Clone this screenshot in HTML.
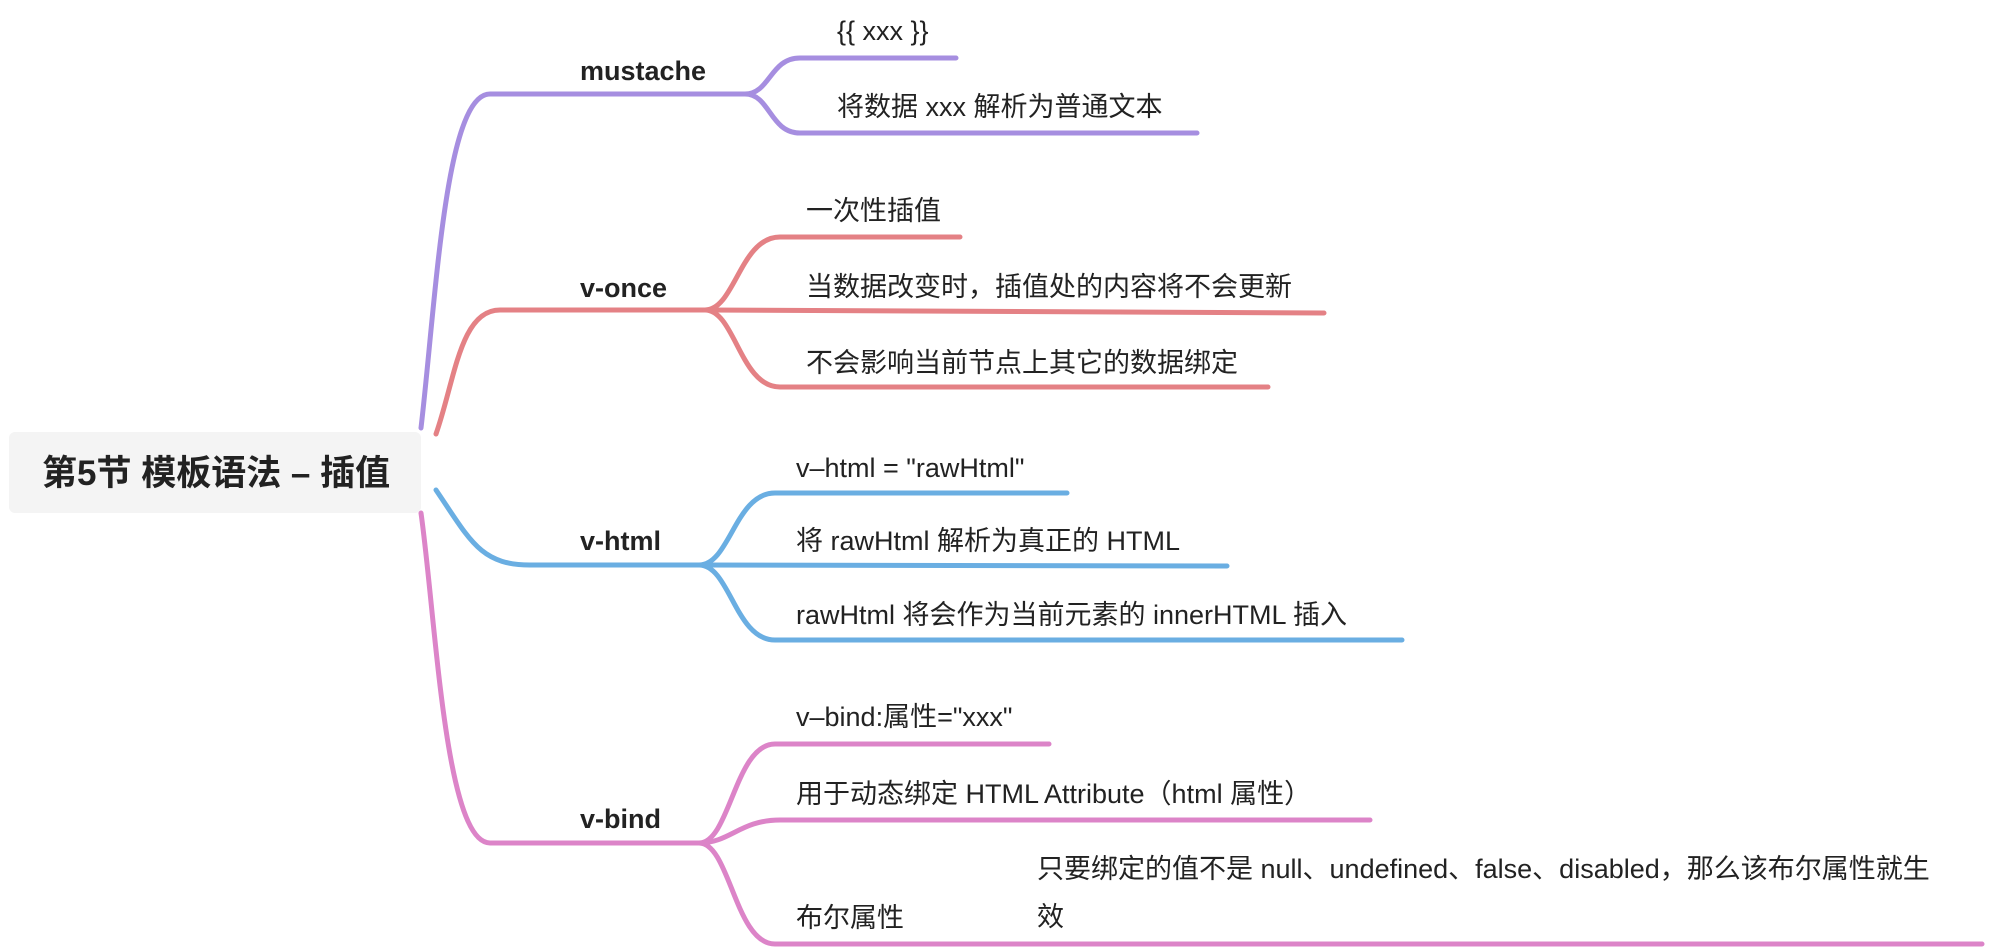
<!DOCTYPE html>
<html><head><meta charset="utf-8"><style>
html,body{margin:0;padding:0;background:#fff;}
svg{display:block;}
text{font-family:"Liberation Sans","Noto Sans CJK SC",sans-serif;fill:#222;font-size:27px;}
.b{font-weight:bold;}
path{fill:none;stroke-width:5;stroke-linecap:round;}
</style></head><body>
<svg width="2012" height="948" viewBox="0 0 2012 948" xmlns="http://www.w3.org/2000/svg">
<rect x="9" y="432" width="412" height="81" rx="6" fill="#f4f4f4"/>
<text x="42" y="485" class="b" style="font-size:35px">第5节 模板语法 – 插值</text>

<!-- purple -->
<g stroke="#a68ee0">
<path d="M421,428 C436,300 445,94 490,94 L745,94"/>
<path d="M745,94 C770,94 770,58 800,58 L956,58"/>
<path d="M745,94 C770,94 770,133 800,133 L1197,133"/>
</g>
<text x="580" y="80" class="b">mustache</text>
<text x="837" y="40">{{ xxx }}</text>
<text x="837" y="116">将数据 xxx 解析为普通文本</text>

<!-- red -->
<g stroke="#e48185">
<path d="M436,434 C455,380 460,310 500,310 L705,310"/>
<path d="M705,310 C735,310 740,237 780,237 L960,237"/>
<path d="M705,310 L1324,313"/>
<path d="M705,310 C735,310 740,387 780,387 L1268,387"/>
</g>
<text x="580" y="297" class="b">v-once</text>
<text x="806" y="220">一次性插值</text>
<text x="806" y="296">当数据改变时，插值处的内容将不会更新</text>
<text x="806" y="372">不会影响当前节点上其它的数据绑定</text>

<!-- blue -->
<g stroke="#6aaee2">
<path d="M436,490 C470,540 480,565 530,565 L699,565"/>
<path d="M699,565 C730,565 735,493 775,493 L1067,493"/>
<path d="M699,565 L1227,566"/>
<path d="M699,565 C730,565 735,640 775,640 L1402,640"/>
</g>
<text x="580" y="550" class="b">v-html</text>
<text x="796" y="477">v–html = "rawHtml"</text>
<text x="796" y="550">将 rawHtml 解析为真正的 HTML</text>
<text x="796" y="624">rawHtml 将会作为当前元素的 innerHTML 插入</text>

<!-- pink -->
<g stroke="#dc84c8">
<path d="M421,513 C436,620 445,843 490,843 L699,843"/>
<path d="M699,843 C730,843 735,744 775,744 L1049,744"/>
<path d="M699,843 C730,843 740,820 780,820 L1370,820"/>
<path d="M699,843 C730,843 735,944 775,944 L1982,944"/>
</g>
<text x="580" y="828" class="b">v-bind</text>
<text x="796" y="726">v–bind:属性="xxx"</text>
<text x="796" y="803">用于动态绑定 HTML Attribute（html 属性）</text>
<text x="796" y="927">布尔属性</text>
<text x="1037" y="878">只要绑定的值不是 null、undefined、false、disabled，那么该布尔属性就生</text>
<text x="1037" y="926">效</text>
</svg>
</body></html>
